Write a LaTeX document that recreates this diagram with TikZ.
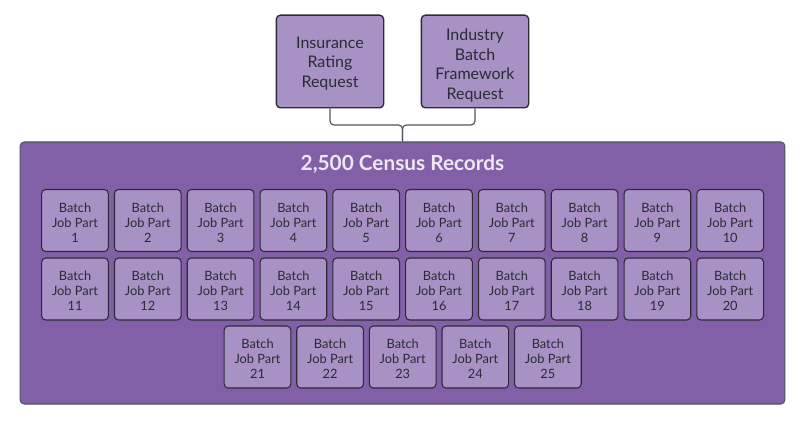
\documentclass[tikz,border=0pt]{standalone}
\usepackage{fontspec}
\setmainfont{Lato}
\definecolor{recordpurple}{HTML}{8260A8}
\definecolor{partpurple}{HTML}{A791C5}
\definecolor{edgedark}{HTML}{2B2B36}
\definecolor{linegray}{HTML}{55555F}
\newcommand{\partlabel}[1]{\rule{0pt}{10.2pt}Batch\\Job Part\\#1}
\tikzset{
	partbox/.style={draw=edgedark,fill=partpurple,rounded corners=3pt,line width=0.8pt,minimum width=50pt,minimum height=46.5pt,inner sep=0pt,align=center,text=edgedark,font=\fontsize{9.6}{11.2}\selectfont},
	requestbox/.style={draw=edgedark,fill=partpurple,rounded corners=3pt,line width=1pt,minimum width=80.5pt,minimum height=69.5pt,inner sep=0pt,align=center,text=edgedark,font=\fontsize{12}{14.6}\selectfont},
	link/.style={draw=linegray,line width=0.9pt,rounded corners=3pt}
}
\begin{document}
\begin{tikzpicture}[x=0.75pt,y=-0.75pt]
		\useasboundingbox (0,0) rectangle (800,431);
		\node[draw=linegray,fill=recordpurple,rounded corners=3pt,line width=0.8pt,minimum width=573.5pt,minimum height=196.5pt,inner sep=0pt] (records) at (402.5,273) {};
		\node[text=white!85!recordpurple,font=\fontsize{15.6}{18}\selectfont\bfseries] (title) at (402.5,164) {2,500 Census Records};
		\node[requestbox] (rating) at (330,61.5) {\rule{0pt}{11.8pt}Insurance\\Rating\\Request};
		\node[requestbox] (framework) at (475,61.5) {\rule{0pt}{15pt}Industry\\Batch\\Framework\\Request};
		\coordinate (join) at (records.north |- 0,125);
		\draw[link] (rating.south) |- (join) -- (records.north);
		\draw[link] (framework.south) |- (join) -- (records.north);
		% first two rows
		\foreach \n in {1,...,10} {
			\node[partbox] (part\n) at ({75+(\n-1)*72.8},220.5) {\partlabel{\n}};
		}
		\foreach \n in {11,...,20} {
			\node[partbox] (part\n) at ({75+(\n-11)*72.8},289) {\partlabel{\n}};
		}
		% last row
		\foreach \n in {21,...,25} {
			\node[partbox] (part\n) at ({257.5+(\n-21)*72.6},357) {\partlabel{\n}};
		}
\end{tikzpicture}
\end{document}
